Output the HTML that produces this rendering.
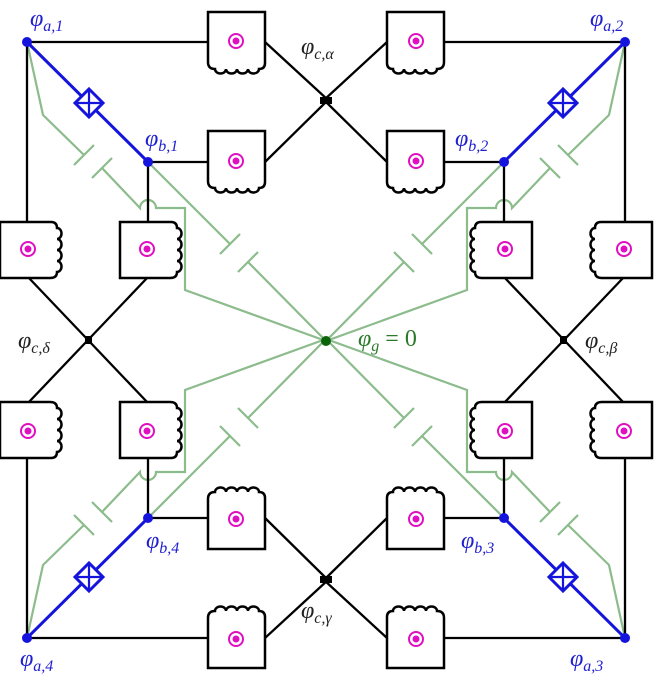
<!DOCTYPE html>
<html><head><meta charset="utf-8"><style>
html,body{margin:0;padding:0;background:#fff;}
svg{display:block;}
text{font-family:"Liberation Serif",serif;font-style:italic;}
</style></head><body>
<svg width="663" height="679" viewBox="0 0 663 679" xmlns="http://www.w3.org/2000/svg">
<defs>
<g id="q">
  <g fill="none" stroke="#8cbb8c" stroke-width="2.2">
    <path d="M27,42 L43,115 L84,155"/>
    <path d="M74,165 L94,145"/>
    <path d="M92,178 L112,158"/>
    <path d="M102,168 L140,208 A8,8 0 0 1 156,208 L185,208 L185,290 L326,341"/>
    <path d="M148,162 L230,244"/>
    <path d="M220,254 L240,234"/>
    <path d="M238,272 L258,252"/>
    <path d="M248,262 L326,341"/>
  </g>
  <g fill="none" stroke="#000" stroke-width="2.3">
    <path d="M27,42 H208"/>
    <path d="M265,42 L328,100"/>
    <path d="M148,162 H208"/>
    <path d="M265,162 L328,100"/>
    <path d="M27,42 V222"/>
    <path d="M148,162 V222"/>
    <path d="M28,277 L88,340"/>
    <path d="M148,277 L88,340"/>
  </g>
  <g fill="#fff" stroke="#000" stroke-width="2.5">
    <path d="M208,62 V12 H265 V63 q0,6 -6,6 a5.5,4.5 0 0 1 -11,0 a5.5,4.5 0 0 1 -11,0 a5.5,4.5 0 0 1 -11,0 a5.5,4.5 0 0 1 -11,0 q-7,0 -7,-7 Z"/>
    <path d="M208,181 V131 H265 V182 q0,6 -6,6 a5.5,4.5 0 0 1 -11,0 a5.5,4.5 0 0 1 -11,0 a5.5,4.5 0 0 1 -11,0 a5.5,4.5 0 0 1 -11,0 q-7,0 -7,-7 Z"/>
    <path d="M0,222 H51 q6,0 6,6 a4.5,5.5 0 0 1 0,11 a4.5,5.5 0 0 1 0,11 a4.5,5.5 0 0 1 0,11 a4.5,5.5 0 0 1 0,11 q0,6 -7,6 H0 Z"/>
    <path d="M120,222 H171 q6,0 6,6 a4.5,5.5 0 0 1 0,11 a4.5,5.5 0 0 1 0,11 a4.5,5.5 0 0 1 0,11 a4.5,5.5 0 0 1 0,11 q0,6 -7,6 H120 Z"/>
  </g>
  <g fill="none" stroke="#e010c0" stroke-width="2">
    <circle cx="236" cy="41" r="7"/><circle cx="236" cy="161" r="7"/>
    <circle cx="28" cy="249" r="7"/><circle cx="147" cy="249" r="7"/>
  </g>
  <g fill="#e010c0">
    <circle cx="236" cy="41" r="3.5"/><circle cx="236" cy="161" r="3.5"/>
    <circle cx="28" cy="249" r="3.5"/><circle cx="147" cy="249" r="3.5"/>
  </g>
  <g stroke="#1414dc" stroke-width="3" fill="#fff">
    <path d="M27,42 L148,162" fill="none"/>
    <path d="M89,89 L103,103 L89,117 L75,103 Z"/>
    <path d="M89,89 V117 M75,103 H103" fill="none" stroke-width="2.2"/>
  </g>
  <circle cx="27" cy="42" r="5" fill="#1414dc"/>
  <circle cx="148" cy="162" r="5" fill="#1414dc"/>
  <rect x="325" y="97" width="7" height="7" fill="#000"/>
  <rect x="85" y="337" width="7" height="7" fill="#000"/>
</g>
</defs>
<use href="#q"/>
<use href="#q" transform="translate(652,0) scale(-1,1)"/>
<use href="#q" transform="translate(0,680) scale(1,-1)"/>
<use href="#q" transform="translate(652,680) scale(-1,-1)"/>
<circle cx="326" cy="341" r="5" fill="#0a640a"/>
<g font-size="24" fill="#2020d0">
  <text x="30" y="26">φ<tspan font-size="16" dy="5">a,1</tspan></text>
  <text x="590" y="26">φ<tspan font-size="16" dy="5">a,2</tspan></text>
  <text x="145" y="146">φ<tspan font-size="16" dy="5">b,1</tspan></text>
  <text x="455" y="146">φ<tspan font-size="16" dy="5">b,2</tspan></text>
  <text x="146" y="548">φ<tspan font-size="16" dy="5">b,4</tspan></text>
  <text x="461" y="548">φ<tspan font-size="16" dy="5">b,3</tspan></text>
  <text x="20" y="666">φ<tspan font-size="16" dy="5">a,4</tspan></text>
  <text x="570" y="666">φ<tspan font-size="16" dy="5">a,3</tspan></text>
</g>
<g font-size="24" fill="#222">
  <text x="301" y="54">φ<tspan font-size="16" dy="5">c,α</tspan></text>
  <text x="18" y="348">φ<tspan font-size="16" dy="5">c,δ</tspan></text>
  <text x="585" y="348">φ<tspan font-size="16" dy="5">c,β</tspan></text>
  <text x="301" y="618">φ<tspan font-size="16" dy="5">c,γ</tspan></text>
</g>
<text x="358" y="346" font-size="24" fill="#2a7a2a">φ<tspan font-size="16" dy="5">g</tspan><tspan dy="-5" font-style="normal"> = 0</tspan></text>
</svg>
</body></html>
